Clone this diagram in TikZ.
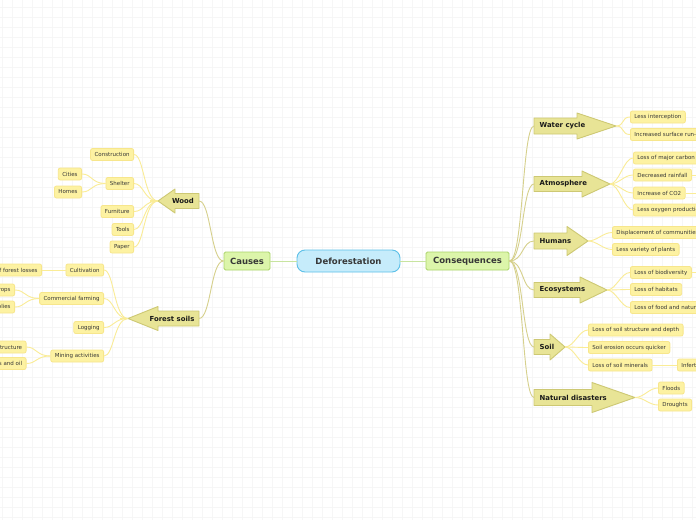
\documentclass[tikz,border=0pt]{standalone}
\usepackage{fontspec}
\setmainfont{DejaVu Sans}
\definecolor{gridc}{RGB}{246,246,246}
\definecolor{leaffill}{RGB}{253,242,162}
\definecolor{leafdraw}{RGB}{247,230,140}
\definecolor{leafline}{RGB}{250,236,150}
\definecolor{arrfill}{RGB}{232,228,150}
\definecolor{arrdraw}{RGB}{205,200,115}
\definecolor{brline}{RGB}{214,208,140}
\definecolor{grfill}{RGB}{220,245,170}
\definecolor{grdraw}{RGB}{170,212,105}
\definecolor{grline}{RGB}{200,228,160}
\definecolor{blfill}{RGB}{198,236,251}
\definecolor{bldraw}{RGB}{92,192,232}
\definecolor{txt}{RGB}{55,55,55}
\definecolor{txtd}{RGB}{25,25,25}

\tikzset{
  gridline/.style={draw=gridc, line width=0.6pt},
  leaf/.style={draw=leafdraw, fill=leaffill, rounded corners=2pt, line width=0.8pt,
    minimum height=12pt, inner xsep=4pt, inner ysep=0pt,
    font=\fontsize{5.5}{6.5}\selectfont, text=txt},
  mainbox/.style={line width=0.9pt, inner ysep=0pt, minimum height=18pt,
    font=\fontsize{8.5}{10}\selectfont\bfseries, text=txt},
  greenbox/.style={mainbox, draw=grdraw, fill=grfill, rounded corners=1.5pt},
  bluebox/.style={mainbox, draw=bldraw, fill=blfill, rounded corners=8pt, minimum height=22pt},
  arrowbox/.style={draw=arrdraw, fill=arrfill, line width=0.9pt, line join=round},
  arrowtext/.style={inner sep=0pt, font=\fontsize{6.9}{8}\selectfont\bfseries, text=txtd},
  lf/.style={draw=leafline, line width=0.9pt},
  lfthick/.style={draw=leafline, line width=1.8pt},
  br/.style={draw=brline, line width=0.9pt},
  gl/.style={draw=grline, line width=0.9pt},
}

\newcommand\myRArrow[7]{%
  \draw[arrowbox] (534,#2-#5) -- (#3,#2-#5) -- (#3,#2-#6) -- (#4,#2) -- (#3,#2+#6) -- (#3,#2+#5) -- (534,#2+#5) -- cycle;
  \node[arrowtext,anchor=west] (#1) at (539.5,#2) {#7};
  \coordinate (#1tip) at (#4,#2);
  \coordinate (#1base) at (534,#2);
}
\newcommand\myLArrow[7]{% name, y, body right x, head base x, tip x, body half, head half
  \draw[arrowbox] (#3,#2-#6) -- (#4,#2-#6) -- (#4,#2-#7) -- (#5,#2) -- (#4,#2+#7) -- (#4,#2+#6) -- (#3,#2+#6) -- cycle;
  \coordinate (#1tip) at (#5,#2);
  \coordinate (#1base) at (#3,#2);
}

\begin{document}
\begin{tikzpicture}[x=1pt,y=-1pt]
\useasboundingbox (0,0) rectangle (696,520);
\clip (0,0) rectangle (696,520);
\fill[white] (0,0) rectangle (696,520);
\foreach \i in {0,...,69} \draw[gridline] (\i*10+2.5,0) -- (\i*10+2.5,520);
\foreach \j in {0,...,52} \draw[gridline] (0,\j*10+7.5) -- (696,\j*10+7.5);

% ---------- centre ----------
\node[bluebox, minimum width=103pt] (defo) at (348.5,261) {Deforestation};
\node[greenbox, minimum width=46pt] (causes) at (247,261) {Causes};
\node[greenbox, minimum width=83pt] (cons) at (467.5,261) {Consequences};
\draw[gl] (causes.east) -- (defo.west);
\draw[gl] (defo.east) -- (cons.west);

% ---------- left arrows ----------
\myLArrow{wood}{201}{199}{175}{158}{7.5}{12}
\node[arrowtext] (woodt) at (183,201) {Wood};
\myLArrow{fs}{318.5}{199}{158}{128}{7.5}{12}
\node[arrowtext] (fst) at (172,318.5) {Forest soils};

\draw[br] (causes.west) .. controls +(-13,0) and +(12,0) .. (woodbase);
\draw[br] (causes.west) .. controls +(-13,0) and +(12,0) .. (fsbase);

% ---------- right arrows ----------
\myRArrow{wc}{126}{577}{616}{8}{13}{Water cycle}
\myRArrow{at}{184}{582}{610}{7.5}{13}{Atmosphere}
\myRArrow{hu}{241}{567}{588}{8}{14.5}{Humans}
\myRArrow{ec}{290}{580}{607}{7.5}{13}{Ecosystems}
\myRArrow{so}{347}{550}{565}{7.5}{13}{Soil}
\myRArrow{nd}{397.5}{592}{635}{8}{15}{Natural disasters}

\foreach \a in {wc,at,hu,ec,so,nd}
  \draw[br] (cons.east) .. controls +(14,0) and +(-12,0) .. (\a base);

% ---------- Wood leaves ----------
\node[leaf, anchor=east] (constr) at (134,154.5) {Construction};
\node[leaf, anchor=east] (shelter) at (134,183.5) {Shelter};
\node[leaf, anchor=east] (furn) at (134,211.5) {Furniture};
\node[leaf, anchor=east] (tools) at (134,229.5) {Tools};
\node[leaf, anchor=east] (paper) at (134,247) {Paper};
\node[leaf, anchor=east] (cities) at (82,174) {Cities};
\node[leaf, anchor=east] (homes) at (82,192) {Homes};
\draw[lfthick] (woodtip) -- (150,201);
\foreach \n in {constr,shelter,furn,tools,paper}
  \draw[lf] (woodtip) .. controls +(-14,0) and +(10,0) .. (\n.east);
\foreach \n in {cities,homes}
  \draw[lf] (shelter.west) .. controls +(-14,0) and +(10,0) .. (\n.east);

% ---------- Forest soils leaves ----------
\node[leaf, anchor=east] (cult) at (104,270) {Cultivation};
\node[leaf, anchor=east] (comm) at (104,298.5) {Commercial farming};
\node[leaf, anchor=east] (logg) at (104,327.5) {Logging};
\node[leaf, anchor=east] (mine) at (104,356) {Mining activities};
\node[leaf, anchor=east] (forl) at (42,270) {Main cause of forest losses};
\node[leaf, anchor=east] (crops) at (15,290) {Cash crops};
\node[leaf, anchor=east] (monop) at (15,307) {Monopolies};
\node[leaf, anchor=east] (infra) at (26.5,347) {Infrastructure};
\node[leaf, anchor=east] (oil) at (26.5,363.5) {Minerals and oil};
\draw[lfthick] (fstip) -- (120,318.5);
\foreach \n in {cult,comm,logg,mine}
  \draw[lf] (fstip) .. controls +(-14,0) and +(10,0) .. (\n.east);
\draw[lf] (cult.west) -- (forl.east);
\foreach \n in {crops,monop}
  \draw[lf] (comm.west) .. controls +(-14,0) and +(10,0) .. (\n.east);
\foreach \n in {infra,oil}
  \draw[lf] (mine.west) .. controls +(-14,0) and +(10,0) .. (\n.east);

% ---------- Water cycle ----------
\node[leaf, anchor=west] (lint) at (630,117) {Less interception};
\node[leaf, anchor=west] (runoff) at (630,134.5) {Increased surface run-off};
% ---------- Atmosphere ----------
\node[leaf, anchor=west] (carb) at (633,158) {Loss of major carbon sink};
\node[leaf, anchor=west] (rain) at (633,175) {Decreased rainfall};
\node[leaf, anchor=west] (co2) at (633,193) {Increase of CO2};
\node[leaf, anchor=west] (oxy) at (633,210) {Less oxygen production};
\coordinate (rainx) at (710,175);
\coordinate (co2x) at (710,193);
\draw[lf] (rain.east) -- (rainx);
\draw[lf] (co2.east) -- (co2x);
% ---------- Humans ----------
\node[leaf, anchor=west] (disp) at (612,232.5) {Displacement of communities};
\node[leaf, anchor=west] (var) at (612,249.5) {Less variety of plants};
% ---------- Ecosystems ----------
\node[leaf, anchor=west] (bio) at (630,272.5) {Loss of biodiversity};
\node[leaf, anchor=west] (hab) at (630,289.5) {Loss of habitats};
\node[leaf, anchor=west] (food) at (630,307.5) {Loss of food and natural resources};
\coordinate (biox) at (710,272.5);
\draw[lf] (bio.east) -- (biox);
% ---------- Soil ----------
\node[leaf, anchor=west] (struct) at (588,330) {Loss of soil structure and depth};
\node[leaf, anchor=west] (eros) at (588,347.5) {Soil erosion occurs quicker};
\node[leaf, anchor=west] (miner) at (588,365) {Loss of soil minerals};
\node[leaf, anchor=west] (infert) at (677,365) {Infertile soil};
\draw[lf] (miner.east) -- (infert.west);
% ---------- Natural disasters ----------
\node[leaf, anchor=west] (flood) at (658,388) {Floods};
\node[leaf, anchor=west] (drought) at (658,405) {Droughts};

\foreach \p/\n in {wc/lint,wc/runoff,at/carb,at/rain,at/co2,at/oxy,hu/disp,hu/var,ec/bio,ec/hab,ec/food,so/struct,so/eros,so/miner,nd/flood,nd/drought}
  \draw[lf] (\p tip) .. controls +(9,0) and +(-9,0) .. (\n.west);
\end{tikzpicture}
\end{document}
